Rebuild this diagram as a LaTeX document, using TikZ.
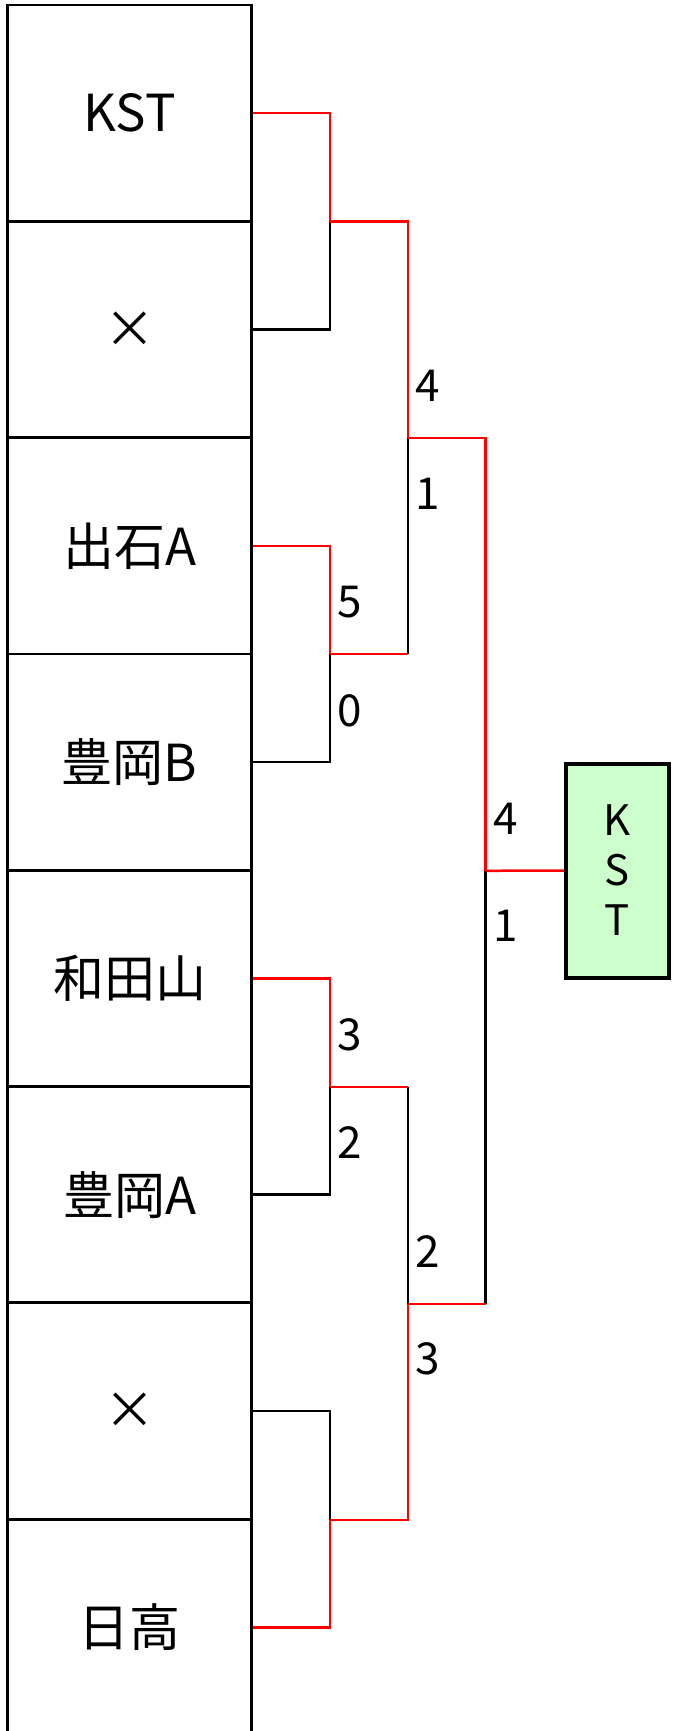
\documentclass[tikz,border=0pt]{standalone}
\usepackage{fontspec}
\setmainfont{Noto Sans CJK JP}
\begin{document}
\begin{tikzpicture}[x=1pt,y=-1pt,
  team/.style={draw=black,line width=2.8pt,minimum width=243.9pt,minimum height=216.3pt,inner sep=0pt,
    font=\fontsize{51}{54}\selectfont},
  win/.style={draw=red,line width=2.5pt},
  lose/.style={draw=black,line width=2.5pt},
  score/.style={anchor=west,inner sep=0pt,font=\fontsize{44}{48}\selectfont},
  champ/.style={draw=black,line width=4pt,fill=green!20,minimum width=103pt,minimum height=214pt,
    inner sep=0pt,align=center,font=\fontsize{42}{50}\selectfont}]
\useasboundingbox (0,0) rectangle (673,1731);
% teams
\node[team] (t1) at (129.6,113.2) {KST};
\node[team] (t2) at (129.6,329.5) {×};
\node[team] (t3) at (129.6,545.8) {出石A};
\node[team] (t4) at (129.6,762.1) {豊岡B};
\node[team] (t5) at (129.6,978.4) {和田山};
\node[team] (t6) at (129.6,1194.7) {豊岡A};
\node[team] (t7) at (129.6,1411.0) {×};
\node[team] (t8) at (129.6,1627.3) {日高};
% champion
\node[champ] (w) at (617.5,870.5) {K\\S\\T};
% joins
\coordinate (m1) at (330,221.7);
\coordinate (m2) at (330,654.0);
\coordinate (m3) at (408,437.8);
\coordinate (m4) at (485.5,870.8);
\coordinate (m5) at (330,1087.0);
\coordinate (m6) at (330,1520.0);
\coordinate (m7) at (408,1303.8);
% match 1
\draw[lose] (t2.east) -| (m1);
\draw[win] (t1.east) -| (m1);
% match 2
\draw[lose] (t4.east) -| (m2);
\draw[win] (t3.east) -| (m2);
% match 3
\draw[lose] (m2 -| m3) -- (m3);
\draw[win] (m2) -- (m2 -| m3);
\draw[win] (m1) -| (m3);
% match 5
\draw[lose] (t6.east) -| (m5);
\draw[win] (t5.east) -| (m5);
% match 6
\draw[lose] (t7.east) -| (m6);
\draw[win] (t8.east) -| (m6);
% match 7
\draw[lose] (m5 -| m7) -- (m7);
\draw[win] (m5) -- (m5 -| m7);
\draw[win] (m6) -| (m7);
% final
\draw[lose] (m7 -| m4) -- (m4);
\draw[win] (m7) -- (m7 -| m4);
\draw[win] (m3) -| (m4);
\draw[win] (m4) -- (w.west);
% scores
\node[score] (s2a) at (337,602) {5};
\node[score] (s2b) at (337,711) {0};
\node[score] (s3a) at (415,386) {4};
\node[score] (s3b) at (415,494) {1};
\node[score] (s4a) at (493,819) {4};
\node[score] (s4b) at (493,926) {1};
\node[score] (s5a) at (337,1035) {3};
\node[score] (s5b) at (337,1143) {2};
\node[score] (s7a) at (415,1252) {2};
\node[score] (s7b) at (415,1359) {3};
\end{tikzpicture}
\end{document}
